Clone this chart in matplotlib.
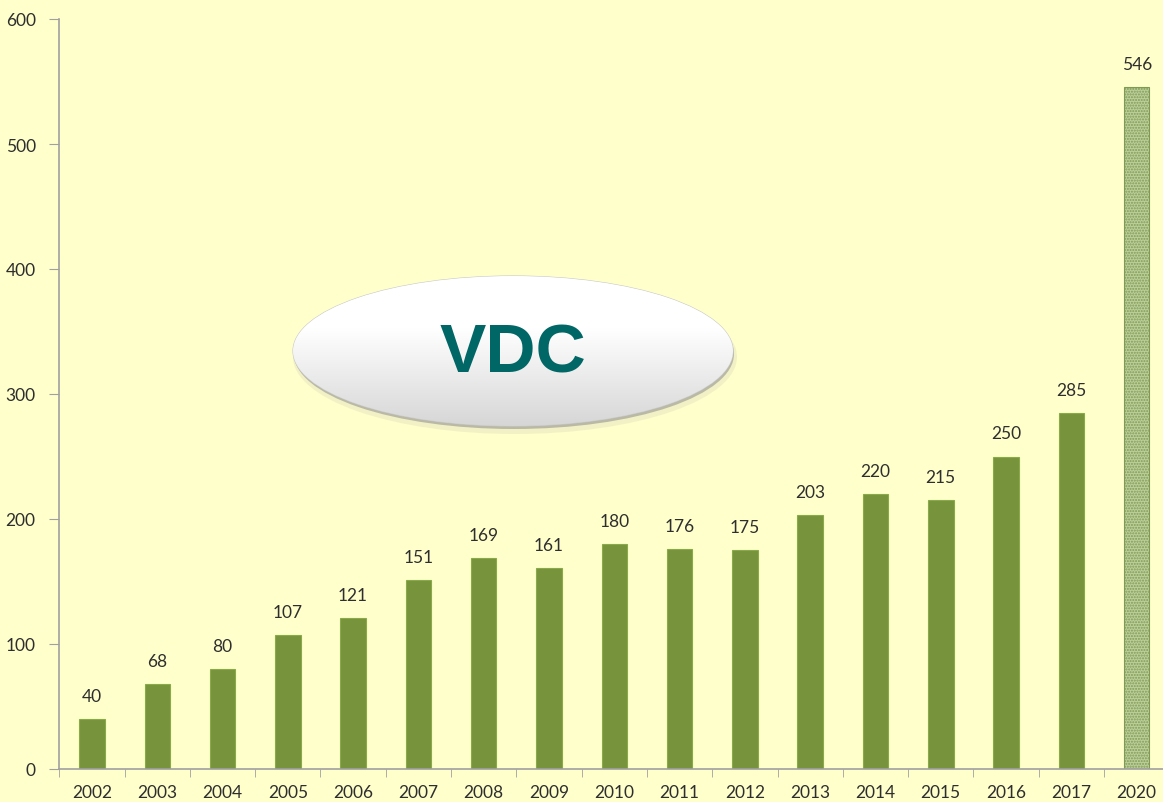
import numpy as np
import matplotlib
matplotlib.use('Agg')
import matplotlib.pyplot as plt
from matplotlib.patches import Ellipse

# Данные
years = ['2002', '2003', '2004', '2005', '2006', '2007', '2008', '2009', '2010',
         '2011', '2012', '2013', '2014', '2015', '2016', '2017', '2020']
values = [40, 68, 80, 107, 121, 151, 169, 161, 180, 176, 175, 203, 220, 215, 250, 285, 546]
yticks = [0, 100, 200, 300, 400, 500, 600]

bg = '#FFFFCC'
green = '#77933C'
plt.rcParams['font.family'] = ['Lato', 'DejaVu Sans']
plt.rcParams['hatch.linewidth'] = 1.0

fig = plt.figure(figsize=(11.63, 8.03), dpi=100, facecolor=bg)
ax = fig.add_axes([59.3 / 1163, 33 / 803, 1110 / 1163, 750 / 803])
ax.set_facecolor(bg)

x = np.arange(len(years))
ax.bar(x[:-1], values[:-1], width=0.39, color=green, edgecolor='#8AAA4A', linewidth=0.8)
# прогноз 2020 - штрихованный
ax.bar(x[-1], values[-1], width=0.39, color='#BCCF9A', edgecolor='#809A55',
       hatch='......', linewidth=0.8)

for xi, v in zip(x, values):
    ax.text(xi, v + 12, str(v), ha='center', va='bottom', fontsize=12.5, color='#2E2E2E')

ax.set_xlim(-0.5, len(years) - 0.5)
ax.set_ylim(0, 600)
ax.set_yticks(yticks)
ax.set_yticklabels([str(t) for t in yticks], fontsize=12.5, color='#2E2E2E')
ax.set_xticks(x)
ax.set_xticklabels(years, fontsize=12.5, color='#2E2E2E')
ax.set_xticks(np.arange(-0.5, len(years), 1), minor=True)
ax.tick_params(axis='x', which='major', length=0, pad=11)
ax.tick_params(axis='x', which='minor', length=6, color='#A0A0A0', direction='out')
ax.tick_params(axis='y', length=7, color='#A0A0A0', pad=10)

for s in ['top', 'right']:
    ax.spines[s].set_visible(False)
for s in ['left', 'bottom']:
    ax.spines[s].set_color('#A0A0A0')
    ax.spines[s].set_linewidth(1.2)

# овал с надписью
ov = fig.add_axes([0, 0, 1, 1], facecolor='none')
ov.set_xlim(0, 1163)
ov.set_ylim(0, 803)
ov.axis('off')
cx, cy, w, h = 513, 803 - 352, 440, 150
ov.add_patch(Ellipse((cx + 2, cy - 6), w + 4, h + 4, color='#D8D8B8', alpha=0.35, lw=0))
ov.add_patch(Ellipse((cx + 1, cy - 3), w, h, color='#8C8C8C', alpha=0.55, lw=0))
ell = Ellipse((cx, cy), w, h, facecolor='none', edgecolor='#C8C8C8', lw=0.8)
ov.add_patch(ell)
grad = np.linspace(0, 1, 256).reshape(-1, 1)
grad = np.clip((grad - 0.35) / 0.65, 0, 1)
cols = np.ones((256, 1, 3)) * (1 - 0.16 * grad)[..., None]
img = ov.imshow(cols, extent=(cx - w / 2, cx + w / 2, cy - h / 2, cy + h / 2),
                origin='upper', aspect='auto', zorder=1)
img.set_clip_path(ell)
ov.text(cx, cy - 3, 'VDC', ha='center', va='center', fontsize=50, fontweight='bold',
        color='#006666', family=['Liberation Sans', 'DejaVu Sans'], zorder=3)

fig.savefig('out.png', dpi=100, facecolor=bg)
